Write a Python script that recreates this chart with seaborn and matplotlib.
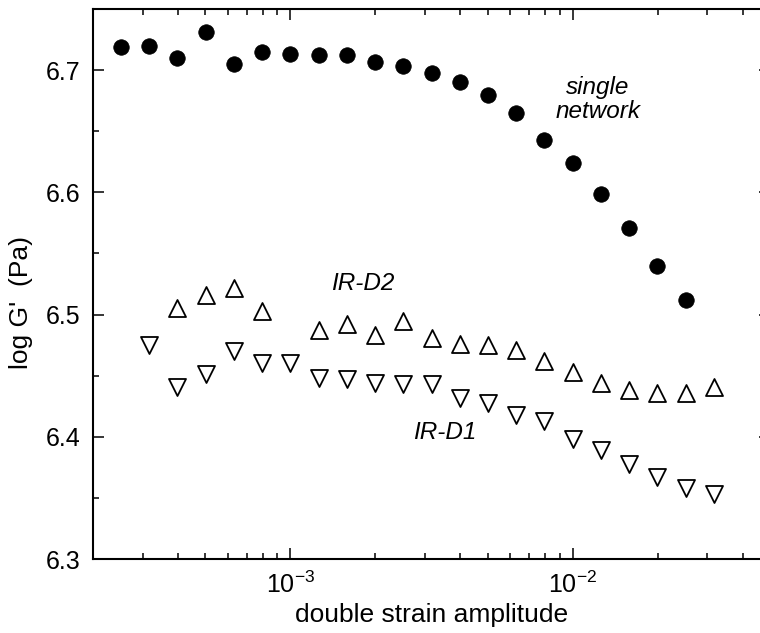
import numpy as np
import pandas as pd
import matplotlib
matplotlib.use("Agg")
import matplotlib.pyplot as plt
import seaborn as sns
from matplotlib.ticker import LogLocator, MultipleLocator, FixedLocator, NullFormatter

# data (x = double strain amplitude, y = log G')
strain_single = [10 ** e for e in
                 [-3.6, -3.5, -3.4, -3.3, -3.2, -3.1, -3.0, -2.9, -2.8, -2.7, -2.6,
                  -2.5, -2.4, -2.3, -2.2, -2.1, -2.0, -1.9, -1.8, -1.7, -1.6]]
logG_single = [6.719, 6.720, 6.710, 6.731, 6.705, 6.715, 6.713, 6.712, 6.712, 6.707, 6.703,
               6.698, 6.690, 6.680, 6.665, 6.643, 6.624, 6.599, 6.571, 6.540, 6.512]

strain_d2 = [10 ** e for e in
             [-3.4, -3.3, -3.2, -3.1, -2.9, -2.8, -2.7, -2.6, -2.5, -2.4, -2.3,
              -2.2, -2.1, -2.0, -1.9, -1.8, -1.7, -1.6, -1.5]]
logG_d2 = [6.505, 6.516, 6.522, 6.503, 6.487, 6.492, 6.483, 6.495, 6.481, 6.476, 6.475,
           6.471, 6.462, 6.453, 6.444, 6.438, 6.436, 6.436, 6.441]

strain_d1 = [10 ** e for e in
             [-3.5, -3.4, -3.3, -3.2, -3.1, -3.0, -2.9, -2.8, -2.7, -2.6, -2.5,
              -2.4, -2.3, -2.2, -2.1, -2.0, -1.9, -1.8, -1.7, -1.6, -1.5]]
logG_d1 = [6.475, 6.441, 6.451, 6.470, 6.460, 6.460, 6.448, 6.447, 6.444, 6.443, 6.443,
           6.432, 6.428, 6.418, 6.413, 6.398, 6.389, 6.378, 6.367, 6.358, 6.353]

sns.set_style("ticks", {'axes.edgecolor': 'black', 'text.color': 'black',
                        'xtick.color': 'black', 'ytick.color': 'black',
                        'axes.labelcolor': 'black'})
plt.rcParams['font.family'] = ['Liberation Sans', 'DejaVu Sans']
plt.rcParams['mathtext.fontset'] = 'custom'
plt.rcParams['mathtext.rm'] = 'Liberation Sans'
plt.rcParams['mathtext.it'] = 'Liberation Sans:italic'

fig = plt.figure(figsize=(7.6, 6.33), dpi=100)
ax = fig.add_axes([0.1224, 0.1169, 0.8908, 0.8689])

df_single = pd.DataFrame({'strain': strain_single, 'logG': logG_single})
df_d2 = pd.DataFrame({'strain': strain_d2, 'logG': logG_d2})
df_d1 = pd.DataFrame({'strain': strain_d1, 'logG': logG_d1})

sns.scatterplot(data=df_single, x='strain', y='logG', ax=ax, marker='o', s=125,
                color='black', edgecolor='black', linewidth=0.5, zorder=3)
sns.scatterplot(data=df_d2, x='strain', y='logG', ax=ax, marker='^', s=150,
                color='white', edgecolor='black', linewidth=1.3, zorder=3)
sns.scatterplot(data=df_d1, x='strain', y='logG', ax=ax, marker='v', s=150,
                color='white', edgecolor='black', linewidth=1.3, zorder=3)

ax.set_xscale('log')
ax.set_xlim(2e-4, 5e-2)
ax.set_ylim(6.3, 6.75)

ax.xaxis.set_major_locator(FixedLocator([1e-3, 1e-2]))
ax.set_xticklabels([r'$10^{-3}$', r'$10^{-2}$'])
ax.xaxis.set_minor_locator(LogLocator(base=10, subs=np.arange(2, 10)))
ax.xaxis.set_minor_formatter(NullFormatter())
ax.yaxis.set_major_locator(FixedLocator([6.3, 6.4, 6.5, 6.6, 6.7]))
ax.yaxis.set_minor_locator(MultipleLocator(0.05))

ax.tick_params(which='both', direction='in', top=True, right=True, width=1.1)
ax.tick_params(which='major', length=8, labelsize=18, pad=9)
ax.tick_params(which='minor', length=4.5)
for sp in ax.spines.values():
    sp.set_linewidth(1.5)

ax.set_xlabel('double strain amplitude', fontsize=19, labelpad=4)
ax.set_ylabel("log G'  (Pa)", fontsize=19)
ax.yaxis.set_label_coords(-0.089, 0.467)

ax.text(0.01227, 6.676, 'single\nnetwork', fontsize=17.5, style='italic',
        ha='center', va='center', linespacing=1.05)
ax.text(1.80e-3, 6.525, 'IR-D2', fontsize=17.5, style='italic', ha='center', va='center')
ax.text(3.51e-3, 6.4035, 'IR-D1', fontsize=17.5, style='italic', ha='center', va='center')

fig.savefig('out.png', dpi=100)
